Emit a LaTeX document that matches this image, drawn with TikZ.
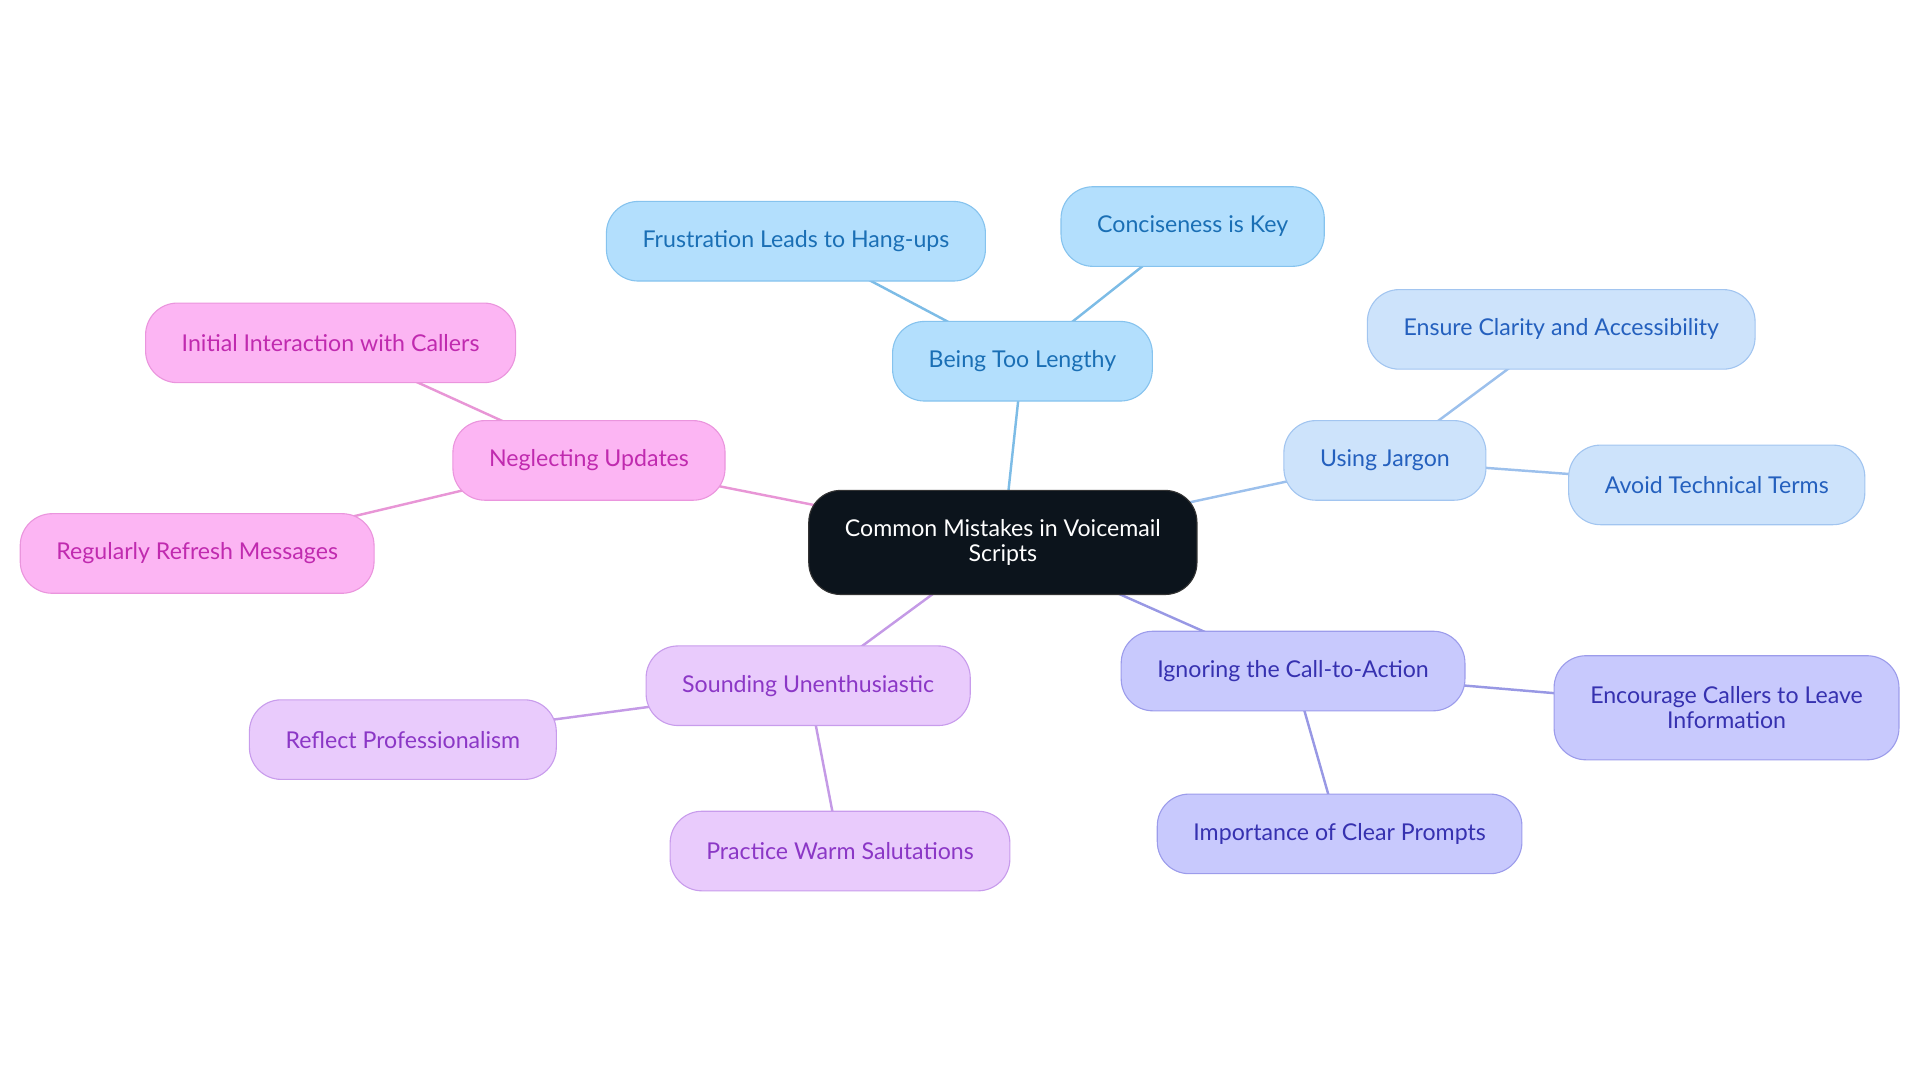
\documentclass[tikz,border=0pt]{standalone}
\usepackage{fontspec}
\setmainfont{Lato}
\usetikzlibrary{backgrounds}
\definecolor{rootfill}{HTML}{0C141C}
\definecolor{lenfill}{HTML}{B3DFFD}\definecolor{lendraw}{HTML}{86C3EE}\definecolor{lentext}{HTML}{1A6FB5}\definecolor{lenline}{HTML}{7DBCE6}
\definecolor{jarfill}{HTML}{CDE3FB}\definecolor{jardraw}{HTML}{A2C5F0}\definecolor{jartext}{HTML}{2460BE}\definecolor{jarline}{HTML}{9CC0EC}
\definecolor{ctafill}{HTML}{C8C9FD}\definecolor{ctadraw}{HTML}{9C9CEB}\definecolor{ctatext}{HTML}{3631B0}\definecolor{ctaline}{HTML}{9898E4}
\definecolor{sndfill}{HTML}{E9CBFC}\definecolor{snddraw}{HTML}{C89CEC}\definecolor{sndtext}{HTML}{8B37C6}\definecolor{sndline}{HTML}{C49AE6}
\definecolor{updfill}{HTML}{FCB5F3}\definecolor{upddraw}{HTML}{EA95DD}\definecolor{updtext}{HTML}{C02AAF}\definecolor{updline}{HTML}{E896D6}
\begin{document}
\begin{tikzpicture}[x=1pt,y=1pt,yscale=-1,xscale=1,
  pill/.style={rounded corners=26pt,minimum height=65pt,inner xsep=29.5pt,align=center,line width=0.9pt,font=\fontsize{18.9}{20.5}\selectfont},
  lenbox/.style={pill,fill=lenfill,draw=lendraw,text=lentext},
  jarbox/.style={pill,fill=jarfill,draw=jardraw,text=jartext},
  ctabox/.style={pill,fill=ctafill,draw=ctadraw,text=ctatext},
  sndbox/.style={pill,fill=sndfill,draw=snddraw,text=sndtext},
  updbox/.style={pill,fill=updfill,draw=upddraw,text=updtext},
  link/.style={line width=2pt}]
\useasboundingbox (0,0) rectangle (1568,884);

% Root
\node[pill,fill=rootfill,draw=black!80,text=white,minimum height=85pt] (root) at (819,443) {Common Mistakes in Voicemail\\Scripts};

% Being Too Lengthy
\node[lenbox] (lengthy) at (835,295) {Being Too Lengthy};
\node[lenbox] (hangups) at (650,197) {Frustration Leads to Hang-ups};
\node[lenbox] (concise) at (974,185) {Conciseness is Key};
% Using Jargon
\node[jarbox] (jargon) at (1131,376) {Using Jargon};
\node[jarbox] (clarity) at (1275,269) {Ensure Clarity and Accessibility};
\node[jarbox] (technical) at (1402,396) {Avoid Technical Terms};
% Ignoring the Call-to-Action
\node[ctabox] (action) at (1056,548) {Ignoring the Call-to-Action};
\node[ctabox,minimum height=85pt] (encourage) at (1410,578) {Encourage Callers to Leave\\Information};
\node[ctabox] (prompts) at (1094,681) {Importance of Clear Prompts};
% Sounding Unenthusiastic
\node[sndbox] (sounding) at (660,560) {Sounding Unenthusiastic};
\node[sndbox] (reflect) at (329,604) {Reflect Professionalism};
\node[sndbox] (warm) at (686,695) {Practice Warm Salutations};
% Neglecting Updates
\node[updbox] (updates) at (481,376) {Neglecting Updates};
\node[updbox] (initial) at (270,280) {Initial Interaction with Callers};
\node[updbox] (refresh) at (161,452) {Regularly Refresh Messages};

% Connectors
\begin{scope}[on background layer]
\draw[link,lenline] (root.center) -- (lengthy.center);
\draw[link,lenline] (lengthy.center) -- (hangups.center);
\draw[link,lenline] (lengthy.center) -- (concise.center);
\draw[link,jarline] (root.center) -- (jargon.center);
\draw[link,jarline] (jargon.center) -- (clarity.center);
\draw[link,jarline] (jargon.center) -- (technical.center);
\draw[link,ctaline] (root.center) -- (action.center);
\draw[link,ctaline] (action.center) -- (encourage.center);
\draw[link,ctaline] (action.center) -- (prompts.center);
\draw[link,sndline] (root.center) -- (sounding.center);
\draw[link,sndline] (sounding.center) -- (reflect.center);
\draw[link,sndline] (sounding.center) -- (warm.center);
\draw[link,updline] (root.center) -- (updates.center);
\draw[link,updline] (updates.center) -- (initial.center);
\draw[link,updline] (updates.center) -- (refresh.center);
\end{scope}

\end{tikzpicture}
\end{document}
